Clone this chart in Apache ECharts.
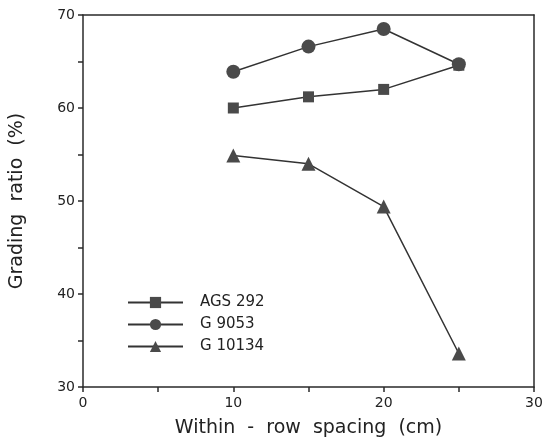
<!DOCTYPE html>
<html>
<head>
<meta charset="utf-8">
<script src="https://cdn.jsdelivr.net/npm/echarts@6/dist/echarts.min.js"></script>
<style>
  html, body { margin: 0; padding: 0; background: #fff; }
  #chart { width: 543px; height: 443px; }
</style>
</head>
<body>
<div id="chart"></div>
<script>
// 行距 (cm)
var spacing = [10, 15, 20, 25]
var seriesNames = ['AGS 292', 'G 9053', 'G 10134']
var ags292 = [60.0, 61.2, 62.0, 64.6]
var g9053 = [63.9, 66.6, 68.5, 64.7]
var g10134 = [54.9, 54.0, 49.4, 33.6]
var symbols = ['rect', 'circle', 'triangle']
var symbolSizes = [11, 14, 14]

function pairs(vals) {
    return spacing.map(function (x, i) { return [x, vals[i]] })
}

var myChart = echarts.init(document.getElementById('chart'))
var axisColor = '#2a2a2a'
var textColor = '#222'
var fontFamily = 'DejaVu Sans, Liberation Sans, sans-serif'

var seriesData = [ags292, g9053, g10134].map(function (vals, i) {
    return {
        name: seriesNames[i],
        type: 'line',
        data: pairs(vals),
        symbol: symbols[i],
        symbolSize: symbolSizes[i],
        itemStyle: { color: '#4a4a4a' },
        lineStyle: { color: '#333', width: 1.5 }
    }
})

// 边框轴: 只画线
var frameAxis = {
    type: 'value',
    axisLine: { show: true, onZero: false, lineStyle: { color: axisColor, width: 1.5 } },
    axisTick: { show: false },
    axisLabel: { show: false },
    splitLine: { show: false }
}

var option = {
    backgroundColor: '#fff',
    animation: false,
    grid: { left: 83, right: 9, top: 15, bottom: 56, outerBoundsMode: 'none', containLabel: false },
    legend: {
        left: 127,
        top: 295,
        padding: 0,
        orient: 'vertical',
        itemWidth: 55,
        itemHeight: 14,
        itemGap: 7,
        textStyle: { color: textColor, fontSize: 15, fontFamily: fontFamily, padding: [0, 0, 0, 12] },
        data: seriesNames
    },
    xAxis: [{
        type: 'value',
        min: 0,
        max: 30,
        interval: 10,
        name: 'Within  -  row  spacing  (cm)',
        nameLocation: 'middle',
        nameGap: 32,
        nameTextStyle: { color: textColor, fontSize: 19, fontFamily: fontFamily },
        axisLine: { onZero: false, lineStyle: { color: axisColor, width: 1.5 } },
        axisTick: { length: 5, lineStyle: { color: axisColor, width: 1.5 } },
        minorTick: { show: true, splitNumber: 2, length: 5, lineStyle: { color: axisColor, width: 1.5 } },
        axisLabel: { color: textColor, fontSize: 14, fontFamily: fontFamily, margin: 9 },
        splitLine: { show: false }
    }, Object.assign({ position: 'top', min: 0, max: 30 }, frameAxis)],
    yAxis: [{
        type: 'value',
        min: 30,
        max: 70,
        interval: 10,
        name: 'Grading  ratio  (%)',
        nameLocation: 'middle',
        nameGap: 56,
        nameTextStyle: { color: textColor, fontSize: 19, fontFamily: fontFamily },
        axisLine: { onZero: false, lineStyle: { color: axisColor, width: 1.5 } },
        axisTick: { length: 5, lineStyle: { color: axisColor, width: 1.5 } },
        minorTick: { show: true, splitNumber: 2, length: 5, lineStyle: { color: axisColor, width: 1.5 } },
        axisLabel: { color: textColor, fontSize: 14, fontFamily: fontFamily, margin: 8 },
        splitLine: { show: false }
    }, Object.assign({ position: 'right', min: 30, max: 70 }, frameAxis)],
    series: seriesData
}

myChart.setOption(option, true)
</script>
</body>
</html>
